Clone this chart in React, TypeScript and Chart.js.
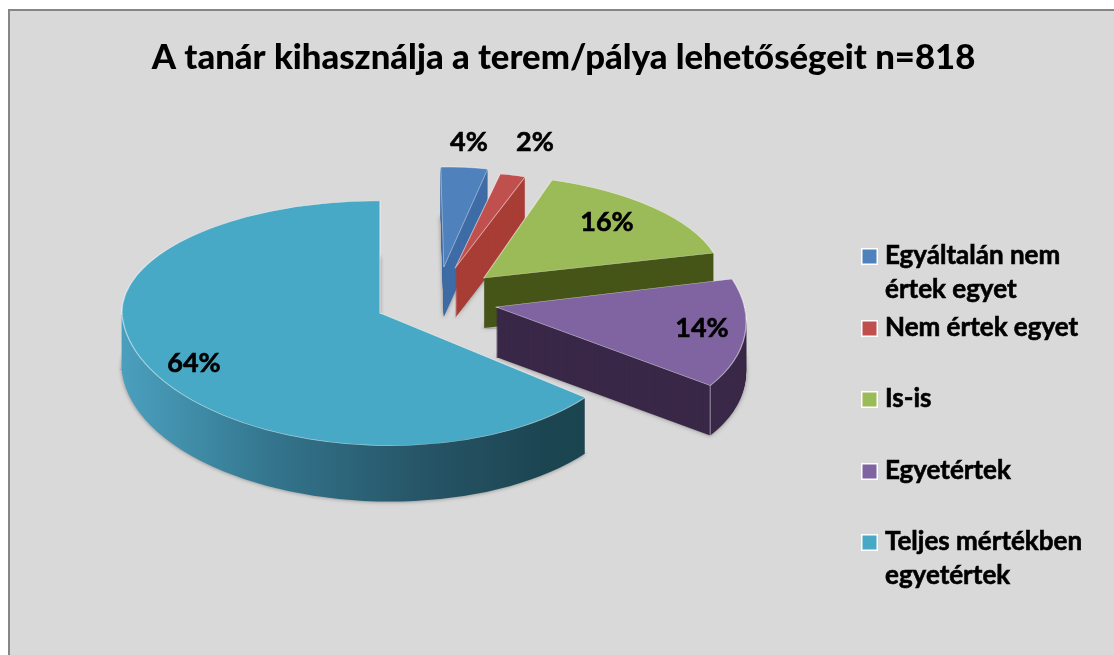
import React, { useEffect, useRef } from "react";
import { Chart, registerables } from "chart.js";

Chart.register(...registerables);

const titleText = "A tanár kihasználja a terem/pálya lehetőségeit n=818";
const categories = ["Egyáltalán nem értek egyet", "Nem értek egyet", "Is-is", "Egyetértek", "Teljes mértékben egyetértek"];
const legendLines = [["Egyáltalán nem", "értek egyet"], ["Nem értek egyet"], ["Is-is"], ["Egyetértek"], ["Teljes mértékben", "egyetértek"]];
const values = [4, 2, 16, 14, 64];
const topColors = ["#4f81bd", "#c0504d", "#9bbb59", "#8064a2", "#47a9c5"];
const sideColors = ["#3f6ca5", "#a83d35", "#465518", "#3a2848", "#2a6376"];

const FONT = "Lato, 'Open Sans', sans-serif";
const CENTER = { x: 436, y: 299 };
const TILT = 0.52;
const EXPLODE = 62;
// projection of each slice, [a, b, c, d] as in ctx.transform: far half, near half
const projFar = [
  [0.74, -0.018, 0.012, 0.392],
  [0.811, -0.023, 0.026, 0.375],
  [0.934, -0.023, 0.083, 0.404],
  [0.97, -0.016, 0.145, 0.503],
  [1.012, 0, 0, 0.44],
];
const projNear = [
  [0.74, -0.018, 0.012, 0.392],
  [0.811, -0.023, 0.026, 0.375],
  [0.934, -0.023, 0.083, 0.404],
  [0.97, -0.016, 0.145, 0.503],
  [1.012, 0, 0.04, 0.52],
];
const depths = [50, 50, 50, 50, 56];
const labelAnchors = [[469, 142], [535, 142], [607, 222], [702, 328], [194, 363]];
const legendRowY = [256, 328, 399, 471, 542];

const pseudo3d = {
  id: "pseudo3d",
  beforeDatasetDraw(chart: any, args: any) {
    const { ctx, width, height } = chart;
    const arcs = args.meta.data;
    arcs.forEach((arc: any, i: number) => {
      const saved = arc.options;
      const mid = (arc.startAngle + arc.endAngle) / 2;
      const ax = CENTER.x + Math.cos(mid) * EXPLODE;
      const ay = Math.round(CENTER.y + Math.sin(mid) * EXPLODE * TILT);
      const base = {
        borderColor: "transparent", borderWidth: 0, borderAlign: "center", offset: 0, spacing: 0,
        circular: true, borderRadius: 0, borderJoinStyle: "round", borderDash: [], borderDashOffset: 0, selfJoin: false,
      };
      const paint = (dy: number, opts: any, shadow: boolean) => {
        [projFar[i], projNear[i]].forEach((m, half) => {
          ctx.save();
          ctx.beginPath();
          if (half === 0) ctx.rect(0, 0, width, ay + dy + 1);
          else ctx.rect(0, ay + dy, width, height);
          ctx.clip();
          if (shadow) {
            ctx.shadowColor = "rgba(90,90,90,0.7)";
            ctx.shadowBlur = 4;
          }
          ctx.translate(ax, ay + dy);
          ctx.transform(m[0], m[1], m[2], m[3], 0, 0);
          ctx.translate(-arc.x, -arc.y);
          arc.options = opts;
          arc.draw(ctx);
          ctx.restore();
        });
      };
      let side: any = sideColors[i];
      if (i === 4) {
        const r = arc.outerRadius;
        const g = ctx.createLinearGradient(arc.x - r, 0, arc.x + r, 0);
        g.addColorStop(0, "#4a9fbd");
        g.addColorStop(0.28, "#33748c");
        g.addColorStop(0.55, "#275668");
        g.addColorStop(0.8, "#1c4552");
        g.addColorStop(1, "#1b4350");
        side = g;
      }
      for (let d = depths[i]; d >= 1; d--) {
        paint(d, { ...base, backgroundColor: side }, d === depths[i]);
      }
      // top face: fill first, then a rim line, so no seam shows where the two halves meet
      paint(0, { ...base, backgroundColor: topColors[i] }, false);
      paint(0, { ...base, backgroundColor: "transparent", borderColor: "rgba(255,255,255,0.55)", borderWidth: 1.3 }, false);
      arc.options = saved;
      if (i === 3) {
        // light seam where the flat cut meets the rim
        const m = projNear[i];
        const px = Math.cos(arc.endAngle) * arc.outerRadius;
        const py = Math.sin(arc.endAngle) * arc.outerRadius;
        const sx = ax + m[0] * px + m[2] * py;
        const sy = ay + m[1] * px + m[3] * py;
        ctx.save();
        ctx.strokeStyle = "rgba(255,255,255,0.5)";
        ctx.lineWidth = 1;
        ctx.beginPath();
        ctx.moveTo(sx, sy);
        ctx.lineTo(sx, sy + depths[i]);
        ctx.stroke();
        ctx.restore();
      }
    });
    return false;
  },
  afterDraw(chart: any) {
    const { ctx } = chart;
    const put = (t: string, x: number, y: number) => {
      ctx.fillText(t, x, y);
      ctx.strokeText(t, x, y);
    };
    ctx.save();
    ctx.fillStyle = "#000";
    ctx.strokeStyle = "#000";
    ctx.lineWidth = 0.6;
    ctx.font = `bold 27px ${FONT}`;
    ctx.textAlign = "center";
    ctx.textBaseline = "middle";
    values.forEach((v, i) => put(`${v}%`, labelAnchors[i][0], labelAnchors[i][1]));
    ctx.font = `bold 26px ${FONT}`;
    ctx.textAlign = "left";
    legendLines.forEach((lines, i) => {
      const y = legendRowY[i];
      ctx.fillStyle = "#ffffff";
      ctx.fillRect(861, y - 8, 17, 17);
      ctx.fillStyle = topColors[i];
      ctx.fillRect(862.5, y - 6.5, 14, 14);
      ctx.fillStyle = "#000";
      lines.forEach((t, j) => put(t, 885, y + j * 34));
    });
    ctx.restore();
  },
  beforeDraw(chart: any) {
    const { ctx, width, height } = chart;
    ctx.save();
    ctx.fillStyle = "#d9d9d9";
    ctx.strokeStyle = "#868686";
    ctx.lineWidth = 2;
    ctx.fillRect(9, 10, width, height);
    ctx.strokeRect(9, 10, width + 20, height + 20);
    ctx.restore();
  },
};

export default function App() {
  const ref = useRef<HTMLCanvasElement>(null);
  useEffect(() => {
    const chart = new Chart(ref.current as HTMLCanvasElement, {
      type: "pie",
      data: {
        labels: categories,
        datasets: [{ data: values, backgroundColor: topColors, borderWidth: 0 }],
      },
      options: {
        animation: false,
        responsive: false,
        events: [],
        radius: 255,
        layout: { padding: { left: 13 } },
        plugins: {
          legend: { display: false },
          tooltip: { enabled: false },
          title: {
            display: true,
            text: titleText,
            color: "#000",
            font: { family: FONT, size: 34.7, weight: "900" },
            padding: { top: 37, bottom: 21 },
          },
        },
      } as any,
      plugins: [pseudo3d],
    });
    return () => chart.destroy();
  }, []);
  return (
    <canvas ref={ref} width={1114} height={655} style={{ position: "fixed", left: 0, top: 0, width: 1114, height: 655 }} />
  );
}
